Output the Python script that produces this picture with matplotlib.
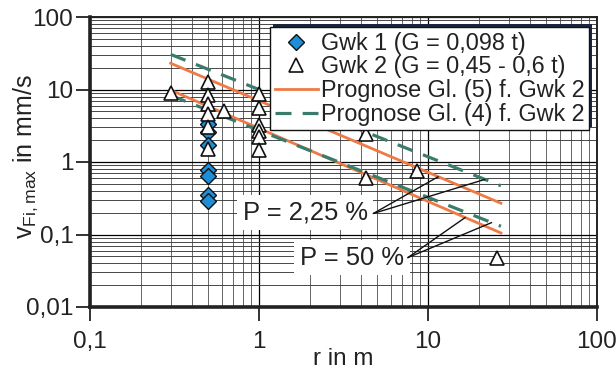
import numpy as np
import matplotlib
matplotlib.use("Agg")
import matplotlib.pyplot as plt
from matplotlib.lines import Line2D
from matplotlib.patches import Rectangle
from matplotlib.ticker import FixedLocator, FixedFormatter, LogLocator, NullFormatter

plt.rcParams['font.family'] = ['Liberation Sans', 'DejaVu Sans']
plt.rcParams['mathtext.default'] = 'regular'

# ---------------- data ----------------
# Gwk 1 (diamonds)
gwk1_r = [0.5, 0.5, 0.5, 0.5, 0.5, 0.5, 0.5]
gwk1_v = [3.3, 2.6, 1.7, 0.78, 0.64, 0.35, 0.29]

# Gwk 2 (triangles)
gwk2_r = [0.3, 0.5, 0.5, 0.5, 0.5, 0.5, 0.5, 0.62,
          1.0, 1.0, 1.0, 1.0, 1.0, 1.0, 4.3, 4.3, 8.6, 25.5]
gwk2_v = [9.0, 12.6, 8.4, 6.3, 4.6, 3.0, 1.5, 5.0,
          8.8, 5.5, 3.2, 2.7, 2.2, 1.45, 2.4, 0.61, 0.75, 0.047]

# Prognosis lines (end points, straight in log-log)
line_r = [0.3, 27.0]
gl5_upper = [23.0, 0.27]    # P = 2,25 %
gl4_upper = [30.5, 0.47]
gl5_lower = [9.8, 0.105]    # P = 50 %
gl4_lower = [8.3, 0.13]

x_ticks = [0.1, 1, 10, 100]
x_ticklabels = ['0,1', '1', '10', '100']
y_ticks = [0.01, 0.1, 1, 10, 100]
y_ticklabels = ['0,01', '0,1', '1', '10', '100']

legend_labels = ['Gwk 1 (G = 0,098 t)', 'Gwk 2 (G = 0,45 - 0,6 t)',
                 'Prognose Gl. (5) f. Gwk 2', 'Prognose Gl. (4) f. Gwk 2']

c_orange = '#ef7a45'
c_teal = '#3b7b6b'
c_blue = '#1e8fd6'
c_text = '#222222'

FS_TICK = 17.5
FS_LAB = 18
FS_LEG = 16.8
FS_ANN = 18.4

fig = plt.figure(figsize=(6.16, 3.76), dpi=100)
ax = fig.add_axes([90/616, 1-307/376, 507/616, 290/376])
ax.set_xscale('log')
ax.set_yscale('log')
ax.set_xlim(0.1, 100)
ax.set_ylim(0.01, 100)

# grid
ax.xaxis.set_minor_locator(LogLocator(base=10, subs=np.arange(2, 10)))
ax.yaxis.set_minor_locator(LogLocator(base=10, subs=np.arange(2, 10)))
ax.xaxis.set_minor_formatter(NullFormatter())
ax.yaxis.set_minor_formatter(NullFormatter())
ax.grid(True, which='major', color='black', lw=0.9, zorder=0)
ax.grid(True, which='minor', axis='x', color='#666666', lw=0.7, zorder=0)
ax.grid(True, which='minor', axis='y', color='#3a3a3a', lw=0.65, zorder=0)
ax.set_axisbelow(True)

ax.xaxis.set_major_locator(FixedLocator(x_ticks))
ax.xaxis.set_major_formatter(FixedFormatter(x_ticklabels))
ax.yaxis.set_major_locator(FixedLocator(y_ticks))
ax.yaxis.set_major_formatter(FixedFormatter(y_ticklabels))
ax.tick_params(which='major', direction='out', length=10, width=1.3,
               labelsize=FS_TICK, color=c_text, labelcolor=c_text)
ax.tick_params(axis='x', which='major', pad=7)
ax.tick_params(axis='y', which='major', pad=2)
ax.tick_params(which='minor', length=0)

for s in ['left', 'bottom']:
    ax.spines[s].set_linewidth(2.6)
for s in ['top', 'right']:
    ax.spines[s].set_linewidth(1.4)
for s in ax.spines.values():
    s.set_color(c_text)

# lines
dash = (0, (5, 3.5))
ax.plot(line_r, gl5_upper, color=c_orange, lw=2.0, zorder=3)
ax.plot(line_r, gl4_upper, color=c_teal, lw=2.3, ls=dash, zorder=3)
ax.plot(line_r, gl5_lower, color=c_orange, lw=2.0, zorder=3)
ax.plot(line_r, gl4_lower, color=c_teal, lw=2.3, ls=dash, zorder=3)

# points
ax.plot(gwk1_r, gwk1_v, ls='none', marker='D', ms=8.3, mfc=c_blue,
        mec='#111111', mew=1.0, zorder=4)
ax.plot(gwk2_r, gwk2_v, ls='none', marker='^', ms=10, mfc='white',
        mec='#111111', mew=1.2, zorder=5)

# annotations
def on_line(r, vals, x):
    lr = np.log10(r); lv = np.log10(vals)
    return 10 ** np.interp(np.log10(x), lr, lv)

txt_kw = dict(fontsize=FS_ANN, color=c_text, va='center', ha='left', zorder=6,
              bbox=dict(boxstyle='square,pad=0.22', fc='white', ec='none'))
ax.text(0.80, 0.20, 'P = 2,25 %', **txt_kw)
ax.text(1.75, 0.048, 'P = 50 %', **txt_kw)

arr = dict(arrowstyle='-', color='#111111', lw=1.0, shrinkA=0, shrinkB=0)
o1 = (4.75, 0.195)
for x, vals in [(11.5, gl5_upper), (21.7, gl4_upper)]:
    ax.annotate('', xy=(x, on_line(line_r, vals, x)), xytext=o1,
                arrowprops=arr, zorder=7)
o2 = (7.6, 0.048)
for x, vals in [(16.6, gl5_lower), (23.8, gl4_lower)]:
    ax.annotate('', xy=(x, on_line(line_r, vals, x)), xytext=o2,
                arrowprops=arr, zorder=7)

# legend
handles = [
    Line2D([], [], ls='none', marker='D', ms=8.3, mfc=c_blue, mec='#111111', mew=1.0),
    Line2D([], [], ls='none', marker='^', ms=10, mfc='white', mec='#111111', mew=1.2),
    Line2D([], [], color=c_orange, lw=2.0),
    Line2D([], [], color=c_teal, lw=2.3, ls=dash),
]
leg = ax.legend(handles, legend_labels, loc='upper right',
                bbox_to_anchor=(589/616, 1-27/376), bbox_transform=fig.transFigure,
                fontsize=FS_LEG, frameon=True, fancybox=False, framealpha=1,
                edgecolor='#111111', borderpad=0.2, labelspacing=0.03,
                handlelength=1.85, handletextpad=0.12, borderaxespad=0)
leg.get_frame().set_linewidth(1.0)
for t in leg.get_texts():
    t.set_color(c_text)

fig.canvas.draw()
bb = leg.get_window_extent()
inv = fig.transFigure.inverted()
(x0, y0), (x1, y1) = inv.transform([[bb.x0 + 3, bb.y0 + 3], [bb.x1 + 3, bb.y1 + 3]])
shadow = Rectangle((x0, y0), x1 - x0, y1 - y0, transform=fig.transFigure,
                   fc='#1c2540', ec='none', zorder=9)
fig.patches.append(shadow)
shadow.set_figure(fig)
leg.remove()
fig.add_artist(leg)
leg.set_zorder(11)

ax.set_xlabel('r in m', fontsize=17.5, color=c_text)
ax.xaxis.set_label_coords(0.5, -0.143)
ax.set_ylabel('v$_{Fi,max}$ in mm/s', fontsize=FS_LAB, color=c_text)
ax.yaxis.set_label_coords(-0.098, 0.52)

fig.savefig('out.png', dpi=100)
